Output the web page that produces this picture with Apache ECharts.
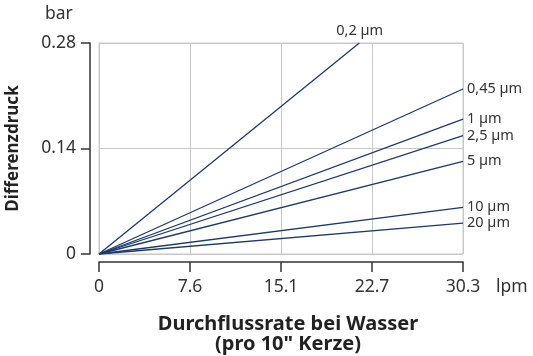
<!DOCTYPE html>
<html><head><meta charset="utf-8">
<script src="https://cdn.jsdelivr.net/npm/echarts@6/dist/echarts.min.js"></script>
<style>html,body{margin:0;padding:0;background:#fff}#c{width:533px;height:356px}</style>
</head><body><div id="c"></div>
<script>
var seriesNames = ['0,2 µm','0,45 µm','1 µm','2,5 µm','5 µm','10 µm','20 µm'];
var endX = [21.67, 30.3, 30.3, 30.3, 30.3, 30.3, 30.3];
var endY = [0.28, 0.219, 0.179, 0.157, 0.123, 0.062, 0.041];
var xTickLabels = ['0','7.6','15.1','22.7','30.3'];
var yTickLabels = ['0','0.14','0.28'];
var FONT = 'Noto Sans';
var lineColor = '#1d3a6b';
var chart = echarts.init(document.getElementById('c'), null, {renderer:'canvas'});
var series = seriesNames.map(function(n,i){
  return {
    name:n, type:'line', symbol:'none', silent:true,
    lineStyle:{color:lineColor,width:1.3},
    endLabel:{show:true,formatter:n,distance:4,
      offset: i===0?[-27,-12]:[0,0],
      color:'#333', fontFamily:FONT, fontSize:14.5},
    data:[[0,0],[endX[i],endY[i]]]
  };
});
chart.setOption({
  animation:false,
  grid:{left:99,right:70,top:43,bottom:102,show:true,borderColor:'#c8c8c8',borderWidth:1,
    containLabel:false,outerBoundsMode:'none'},
  xAxis:{type:'value',min:0,max:30.3,interval:7.575,offset:8,
    axisLine:{onZero:false,lineStyle:{color:'#333',width:1.5}},
    axisTick:{show:true,length:10,lineStyle:{color:'#333',width:1.5}},
    axisLabel:{color:'#333',fontFamily:FONT,fontSize:17.5,margin:16,
      formatter:function(v){return xTickLabels[Math.round(v/7.575)];}},
    splitLine:{show:true,lineStyle:{color:'#c8c8c8',width:1}},
    name:'Durchflussrate bei Wasser\n(pro 10" Kerze)',nameLocation:'middle',nameGap:52,
    nameTextStyle:{fontFamily:FONT,fontSize:20,fontWeight:'bold',color:'#222',lineHeight:20,
      padding:[0,0,0,14]}
  },
  yAxis:{type:'value',min:0,max:0.28,interval:0.14,offset:9,
    axisLine:{show:true,onZero:false,lineStyle:{color:'#333',width:1.5}},
    axisTick:{show:true,length:9,lineStyle:{color:'#333',width:1.5}},
    axisLabel:{color:'#333',fontFamily:FONT,fontSize:17.5,margin:14,
      formatter:function(v){return yTickLabels[Math.round(v/0.14)];}},
    splitLine:{show:true,lineStyle:{color:'#c8c8c8',width:1}},
    name:'Differenzdruck',nameLocation:'middle',nameGap:68,nameRotate:90,
    nameTextStyle:{fontFamily:FONT,fontSize:17,fontWeight:'bold',color:'#222'}
  },
  graphic:[
    {type:'text',left:45,top:5,style:{text:'bar',fontFamily:FONT,fontSize:17.5,fill:'#333'}},
    {type:'text',left:496,top:278,style:{text:'lpm',fontFamily:FONT,fontSize:17.5,fill:'#333'}}
  ],
  series:series
});
</script></body></html>
